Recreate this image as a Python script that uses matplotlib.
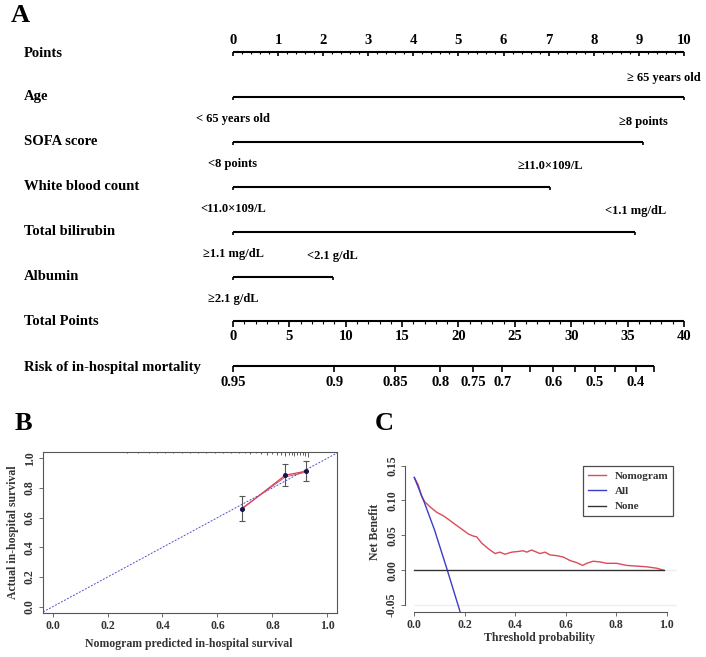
import numpy as np
import matplotlib.pyplot as plt

plt.rcParams['font.family'] = ['Liberation Serif', 'DejaVu Serif']
plt.rcParams['font.weight'] = 'bold'

W, H = 706, 657

# ---- panel A: nomogram ----
var_names = ['Age', 'SOFA score', 'White blood count', 'Total bilirubin', 'Albumin']
var_points = [10.0, 9.1, 7.03, 8.92, 2.21]
low_labels = ['< 65 years old', '<8 points', '<11.0×109/L', '≥1.1 mg/dL', '≥2.1 g/dL']
high_labels = ['≥ 65 years old', '≥8 points', '≥11.0×109/L', '<1.1 mg/dL', '<2.1 g/dL']
points_ticks = list(range(0, 11))
total_ticks = [0, 5, 10, 15, 20, 25, 30, 35, 40]
total_max = 40
risk_labels = ['0.95', '0.9', '0.85', '0.8', '0.75', '0.7', '', '0.6', '', '0.5', '', '0.4', '']
risk_pos = [0, 9.0, 14.4, 18.4, 21.3, 23.9, 26.3, 28.4, 30.3, 32.1, 33.9, 35.7, 37.3]

# ---- panel B: calibration ----
cal_pred = [0.688, 0.847, 0.921]
cal_obs = [0.657, 0.886, 0.912]
cal_lo = [0.576, 0.811, 0.848]
cal_hi = [0.746, 0.964, 0.982]
cal_corr = [0.662, 0.874, 0.906]
rug_x = [0.27, 0.31, 0.35, 0.38, 0.41, 0.44, 0.47, 0.50, 0.53, 0.56, 0.59, 0.62,
         0.65, 0.68, 0.70, 0.72, 0.74, 0.76, 0.78, 0.80, 0.815, 0.83, 0.845, 0.86,
         0.87, 0.88, 0.89, 0.90, 0.91, 0.92, 0.93]
rug_h = [0.006, 0.006, 0.006, 0.006, 0.006, 0.006, 0.006, 0.008, 0.006, 0.008, 0.006, 0.008,
         0.008, 0.008, 0.008, 0.010, 0.008, 0.010, 0.015, 0.012, 0.018, 0.015, 0.028, 0.020,
         0.018, 0.022, 0.016, 0.020, 0.018, 0.024, 0.030]

# ---- panel C: decision curve ----
dca_t = [0.0, 0.016, 0.029, 0.042, 0.062, 0.089, 0.115, 0.135, 0.161, 0.188, 0.214, 0.234,
         0.247, 0.267, 0.293, 0.320, 0.339, 0.359, 0.386, 0.412, 0.432, 0.445, 0.465, 0.498,
         0.518, 0.538, 0.564, 0.590, 0.617, 0.643, 0.667, 0.683, 0.709, 0.736, 0.762, 0.802,
         0.841, 0.881, 0.921, 0.960, 0.989]
dca_nomo = [0.133, 0.122, 0.106, 0.098, 0.091, 0.083, 0.078, 0.073, 0.066, 0.059, 0.052, 0.049,
            0.048, 0.039, 0.031, 0.024, 0.026, 0.023, 0.026, 0.027, 0.028, 0.026, 0.029, 0.024,
            0.026, 0.022, 0.021, 0.019, 0.014, 0.011, 0.007, 0.010, 0.013, 0.012, 0.010, 0.010,
            0.007, 0.006, 0.005, 0.003, 0.000]
all_t = [0.0, 0.04, 0.08, 0.131, 0.182]
all_nb = [0.133, 0.097, 0.058, 0.0, -0.060]
none_t = [0.0, 0.99]
none_nb = [0.0, 0.0]

fig = plt.figure(figsize=(W / 100, H / 100), dpi=100)


def px(x, y):
    return x / W, 1 - y / H


# nomogram axes: x in "points" units, y in row units
axA = fig.add_axes([0, 1 - 395 / H, 1, 395 / H])
axA.set_axis_off()
x0, ppu = 233, 45.1
row0, rstep = 52, 44.9
axA.set_xlim(-x0 / ppu, (W - x0) / ppu)
axA.set_ylim((395 - row0) / rstep, -row0 / rstep)
lw = 1.5
lab_x = (24 - x0) / ppu
fs_row, fs_lvl, fs_tick = 10.5, 9, 10.5

# Points axis
axA.text(lab_x, 0.03, 'Points', fontsize=fs_row, va='center')
axA.plot([0, 10], [0, 0], color='k', lw=lw, solid_capstyle='butt')
axA.vlines(points_ticks, 0, 0.08, color='k', lw=1.2)
minor = [p / 5 for p in range(51) if p % 5]
axA.vlines(minor, 0, 0.05, color='k', lw=0.8)
for p in points_ticks:
    axA.text(p, -0.25, str(p), ha='center', va='center', fontsize=fs_tick)

# variable rows
for i, name in enumerate(var_names):
    r = i + 1
    axA.text(lab_x, r, name, fontsize=fs_row, va='center')
    axA.plot([0, var_points[i]], [r, r], color='k', lw=lw, solid_capstyle='butt')
    axA.vlines([0, var_points[i]], r, r + 0.08, color='k', lw=1.2)
    axA.text(0, r + 0.5, low_labels[i], ha='center', va='center', fontsize=fs_lvl)
    if i == 0:
        axA.text(10.36, r - 0.42, high_labels[i], ha='right', va='center', fontsize=fs_lvl)
    else:
        axA.text(var_points[i], r - 0.45, high_labels[i], ha='center', va='center',
                 fontsize=fs_lvl)

# Total points axis
r = 6
scale = 10 / total_max
axA.text(lab_x, r, 'Total Points', fontsize=fs_row, va='center')
axA.plot([0, 10], [r, r], color='k', lw=lw, solid_capstyle='butt')
axA.vlines([t * scale for t in total_ticks], r, r + 0.12, color='k', lw=1.2)
axA.vlines([t * scale for t in range(total_max + 1) if t % 5], r, r + 0.06, color='k', lw=0.8)
for t in total_ticks:
    axA.text(t * scale, r + 0.34, str(t), ha='center', va='center', fontsize=fs_tick)

# Risk axis
r = 7
axA.text(lab_x, r + 0.02, 'Risk of in-hospital mortality', fontsize=fs_row, va='center')
axA.plot([0, risk_pos[-1] * scale], [r, r], color='k', lw=lw, solid_capstyle='butt')
axA.vlines([p * scale for p in risk_pos], r, r + 0.12, color='k', lw=1.2)
for p, lab in zip(risk_pos, risk_labels):
    axA.text(p * scale, r + 0.36, lab, ha='center', va='center', fontsize=fs_tick)

# panel letters
for letter, (lx, ly) in zip('ABC', [(20, 15), (23, 423), (384, 423)]):
    fig.text(*px(lx, ly), letter, fontsize=19, ha='center', va='center')

grey = '#333333'

# ---- B ----
axB = fig.add_axes([42.7 / W, 1 - 612.7 / H, 294 / W, 160.4 / H])
axB.set_xlim(-0.036, 1.034)
axB.set_ylim(-0.04, 1.04)
axB.plot([-0.1, 1.1], [-0.1, 1.1], ls=(0, (2, 1.5)), color='#5050d0', lw=0.7)
axB.vlines(rug_x, [1.04 - h for h in rug_h], 1.04, color='#444444', lw=0.6)
axB.errorbar(cal_pred, cal_obs,
             yerr=[np.subtract(cal_obs, cal_lo), np.subtract(cal_hi, cal_obs)],
             fmt='none', ecolor='#555555', elinewidth=0.8, capsize=2.5, capthick=0.8)
axB.plot(cal_pred, cal_corr, color='#b04060', lw=0.6)
axB.plot(cal_pred, cal_obs, color='#e0404f', lw=0.9)
axB.plot(cal_pred, cal_obs, 'o', ms=2.6, color='#15154a')
ticks = [0.0, 0.2, 0.4, 0.6, 0.8, 1.0]
axB.set_xticks(ticks, [f'{t:.1f}' for t in ticks])
axB.set_yticks(ticks, [f'{t:.1f}' for t in ticks], rotation=90, va='center')
for s in axB.spines.values():
    s.set_color('#555555')
    s.set_linewidth(0.8)
axB.tick_params(direction='out', length=3, width=0.6, colors='#555555', labelcolor=grey,
                labelsize=8.5, pad=2)
fig.text(*px(189, 644), 'Nomogram predicted in-hospital survival', fontsize=8.5,
         ha='center', va='center', color=grey)
fig.text(*px(13, 532), 'Actual in-hospital survival', fontsize=8.5, rotation=90,
         ha='center', va='center', color=grey)

# ---- C ----
axC = fig.add_axes([405 / W, 1 - 611.7 / H, 271.8 / W, 153.1 / H])
axC.set_xlim(-0.0368, 1.04)
axC.set_ylim(-0.0593, 0.16)
axC.hlines(-0.05, 0, 1.04, color='#eeeeee', lw=1)
axC.hlines(0, 0.99, 1.04, color='#eeeeee', lw=1)
axC.plot(dca_t, dca_nomo, color='#de4a5a', lw=1, label='Nomogram')
axC.plot(all_t, all_nb, color='#3c3cc8', lw=1, label='All')
axC.plot(none_t, none_nb, color='#333333', lw=1, label='None')
axC.set_xticks(ticks, [f'{t:.1f}' for t in ticks])
yt = [-0.05, 0.0, 0.05, 0.10, 0.15]
axC.set_yticks(yt, [f'{t:.2f}' for t in yt], rotation=90, va='center')
axC.spines['top'].set_visible(False)
axC.spines['right'].set_visible(False)
axC.spines['left'].set_bounds(-0.05, 0.15)
axC.spines['bottom'].set_bounds(0, 1)
for s in ['left', 'bottom']:
    axC.spines[s].set_color('#555555')
    axC.spines[s].set_linewidth(0.8)
axC.tick_params(direction='out', length=3, width=0.6, colors='#555555', labelcolor=grey,
                labelsize=8.5, pad=2)
leg = axC.legend(loc='upper left', bbox_to_anchor=(0.654, 0.952), borderaxespad=0,
                 fancybox=False, edgecolor='#222222', fontsize=8, handlelength=1.6,
                 handletextpad=0.8, labelspacing=0.5, borderpad=0.45)
leg.get_frame().set_linewidth(0.9)
for t in leg.get_texts():
    t.set_color(grey)
fig.text(*px(540, 638), 'Threshold probability', fontsize=8.5, ha='center', va='center',
         color=grey)
fig.text(*px(375, 532), 'Net Benefit', fontsize=8.5, rotation=90, ha='center', va='center',
         color=grey)

fig.savefig('out.png', dpi=100)
